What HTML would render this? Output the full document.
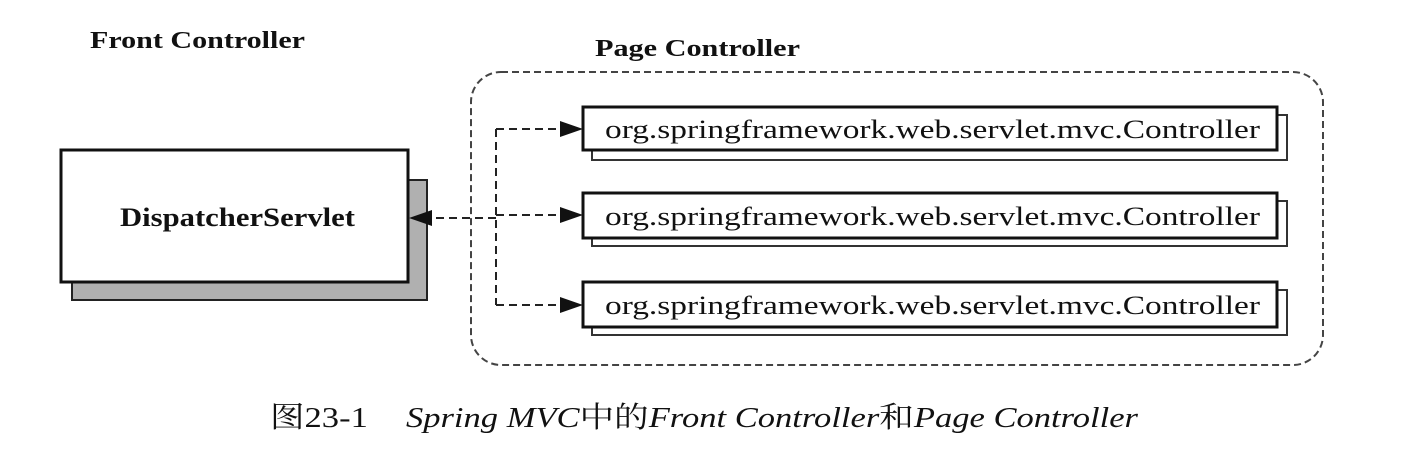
<!DOCTYPE html>
<html><head><meta charset="utf-8"><style>
html,body{margin:0;padding:0;background:#fff;}
svg{display:block;}
</style></head><body>
<svg width="1426" height="456" xmlns="http://www.w3.org/2000/svg" font-family="'Liberation Serif','Noto Serif CJK SC',serif">
<text x="90" y="48" font-size="24" font-weight="bold" fill="#111" textLength="215" lengthAdjust="spacingAndGlyphs">Front Controller</text>
<text x="595" y="56" font-size="24" font-weight="bold" fill="#111" textLength="205" lengthAdjust="spacingAndGlyphs">Page Controller</text>

<rect x="471" y="72" width="852" height="293" rx="30" fill="none" stroke="#444" stroke-width="2" stroke-dasharray="7,4"/>

<!-- dispatcher -->
<rect x="72" y="180" width="355" height="120" fill="#b0b0b0" stroke="#222" stroke-width="2"/>
<rect x="61" y="150" width="347" height="132" fill="#fff" stroke="#111" stroke-width="3"/>
<text x="120" y="226" font-size="26" font-weight="bold" fill="#111" textLength="235" lengthAdjust="spacingAndGlyphs">DispatcherServlet</text>

<!-- connectors -->
<g stroke="#222" stroke-width="2" stroke-dasharray="8,5" fill="none">
<path d="M496,129 V305"/>
<path d="M496,129 H562"/>
<path d="M496,215 H562"/>
<path d="M496,305 H562"/>
<path d="M496,218 H430"/>
</g>
<path d="M560,121 L583,129 L560,137 z" fill="#111"/>
<path d="M560,207 L583,215 L560,223 z" fill="#111"/>
<path d="M560,297 L583,305 L560,313 z" fill="#111"/>
<path d="M432,210 L409,218 L432,226 z" fill="#111"/>

<!-- controllers -->
<g>
<rect x="592" y="115" width="695" height="45" fill="#fff" stroke="#333" stroke-width="2"/>
<rect x="583" y="107" width="694" height="43" fill="#fff" stroke="#111" stroke-width="3"/>
<text x="605" y="138" font-size="26" fill="#111" textLength="655" lengthAdjust="spacingAndGlyphs">org.springframework.web.servlet.mvc.Controller</text>
<rect x="592" y="201" width="695" height="45" fill="#fff" stroke="#333" stroke-width="2"/>
<rect x="583" y="193" width="694" height="45" fill="#fff" stroke="#111" stroke-width="3"/>
<text x="605" y="225" font-size="26" fill="#111" textLength="655" lengthAdjust="spacingAndGlyphs">org.springframework.web.servlet.mvc.Controller</text>
<rect x="592" y="290" width="695" height="45" fill="#fff" stroke="#333" stroke-width="2"/>
<rect x="583" y="282" width="694" height="45" fill="#fff" stroke="#111" stroke-width="3"/>
<text x="605" y="314" font-size="26" fill="#111" textLength="655" lengthAdjust="spacingAndGlyphs">org.springframework.web.servlet.mvc.Controller</text>
</g>

<text x="270" y="427" font-size="29" fill="#111" textLength="868" lengthAdjust="spacingAndGlyphs">图23-1<tspan dx="32" font-style="italic">Spring MVC</tspan>中的<tspan font-style="italic">Front Controller</tspan>和<tspan font-style="italic">Page Controller</tspan></text>
</svg>
</body></html>
